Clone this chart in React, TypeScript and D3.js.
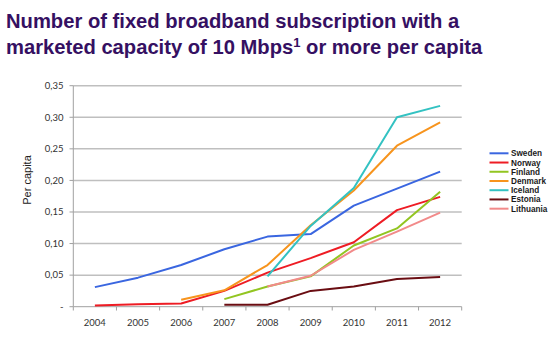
import React from "react";
import * as d3 from "d3";

const years = ["2004", "2005", "2006", "2007", "2008", "2009", "2010", "2011", "2012"];
const countries = ["Sweden", "Norway", "Finland", "Denmark", "Iceland", "Estonia", "Lithuania"];
const colors = ["#3a66e0", "#ee1c24", "#92c521", "#f7941d", "#33c2c2", "#6a0d12", "#f28a8a"];

const sweden = [0.031, 0.046, 0.066, 0.091, 0.111, 0.115, 0.160, 0.187, 0.214];
const norway = [0.002, 0.004, 0.005, 0.025, 0.054, 0.077, 0.102, 0.153, 0.174];
const finland = [null, null, null, 0.012, 0.032, 0.048, 0.097, 0.124, 0.182];
const denmark = [null, null, 0.011, 0.026, 0.066, 0.129, 0.184, 0.255, 0.292];
const iceland = [null, null, null, null, 0.048, 0.128, 0.188, 0.300, 0.318];
const estonia = [null, null, null, 0.003, 0.003, 0.025, 0.032, 0.044, 0.047];
const lithuania = [null, null, null, null, 0.032, 0.049, 0.090, 0.119, 0.149];

const seriesValues = [sweden, norway, finland, denmark, iceland, estonia, lithuania];
const yTicks = [0, 0.05, 0.1, 0.15, 0.2, 0.25, 0.3, 0.35];

export default function App() {
  const W = 550, H = 338;
  const x = d3.scaleBand<string>().domain(years).range([73.3, 461.7]);
  const y = d3.scaleLinear().domain([0, 0.35]).range([306.7, 85.7]);
  const cx = (yr: string) => (x(yr) as number) + x.bandwidth() / 2;
  const line = d3
    .line<[string, number | null]>()
    .defined((d) => d[1] !== null)
    .x((d) => cx(d[0]))
    .y((d) => y(d[1] as number));
  const fmt = (v: number) => (v === 0 ? "-" : d3.format(".2f")(v).replace(".", ","));
  const tickFont = "Lato, 'Liberation Sans', Arial, sans-serif";
  const sans = "'Liberation Sans', Arial, sans-serif";

  return (
    <svg width={W} height={H} style={{ position: "absolute", left: 0, top: 0, background: "#fff" }}>
      <text x={6} y={28} fontFamily={sans} fontWeight="bold" fontSize={20.2} fill="#351062">
        Number of fixed broadband subscription with a
      </text>
      <text x={6} y={54} fontFamily={sans} fontWeight="bold" fontSize={20.2} fill="#351062">
        marketed capacity of 10 Mbps<tspan fontSize={13} dy={-7}>1</tspan>
        <tspan dy={7}> or more per capita</tspan>
      </text>

      {yTicks.slice(1).map((t) => (
        <line key={"g" + t} x1={73.3} x2={461.7} y1={y(t)} y2={y(t)} stroke="#bfbfbf" strokeWidth={1.5} />
      ))}
      {yTicks.map((t) => (
        <g key={"yt" + t}>
          <line x1={69.5} x2={73.3} y1={y(t)} y2={y(t)} stroke="#a0a0a0" strokeWidth={1} />
          <text x={63.5} y={y(t) + 3.3} textAnchor="end" fontFamily={tickFont} fontSize={9.5} fill="#333">
            {fmt(t)}
          </text>
        </g>
      ))}
      <line x1={73.3} x2={73.3} y1={85.7} y2={306.7} stroke="#a0a0a0" strokeWidth={1} />
      <line x1={73.3} x2={461.7} y1={306.7} y2={306.7} stroke="#a0a0a0" strokeWidth={1} />
      {years.map((yr) => (
        <line key={"xt" + yr} x1={x(yr) as number} x2={x(yr) as number} y1={306.7} y2={310.5} stroke="#a0a0a0" />
      ))}
      <line x1={461.7} x2={461.7} y1={306.7} y2={310.5} stroke="#a0a0a0" />
      {years.map((yr) => (
        <text key={"xl" + yr} x={cx(yr)} y={326} textAnchor="middle" fontFamily={tickFont} fontSize={9.5} fill="#333">
          {yr}
        </text>
      ))}
      <text transform="translate(31,180) rotate(-90)" textAnchor="middle" fontFamily={sans} fontSize={11} fill="#222">
        Per capita
      </text>

      {seriesValues.map((vals, i) => (
        <path
          key={"s" + i}
          d={line(years.map((yr, j) => [yr, vals[j]] as [string, number | null])) || ""}
          fill="none"
          stroke={colors[i]}
          strokeWidth={2}
          strokeLinejoin="round"
        />
      ))}

      {countries.map((c, i) => (
        <g key={"lg" + c} transform={`translate(0, ${153.3 + i * 9.23})`}>
          <line x1={489.5} x2={508.5} y1={0} y2={0} stroke={colors[i]} strokeWidth={2} />
          <text x={511} y={3} fontFamily={sans} fontWeight="bold" fontSize={8.2} fill="#1a1a1a">
            {c}
          </text>
        </g>
      ))}
    </svg>
  );
}
